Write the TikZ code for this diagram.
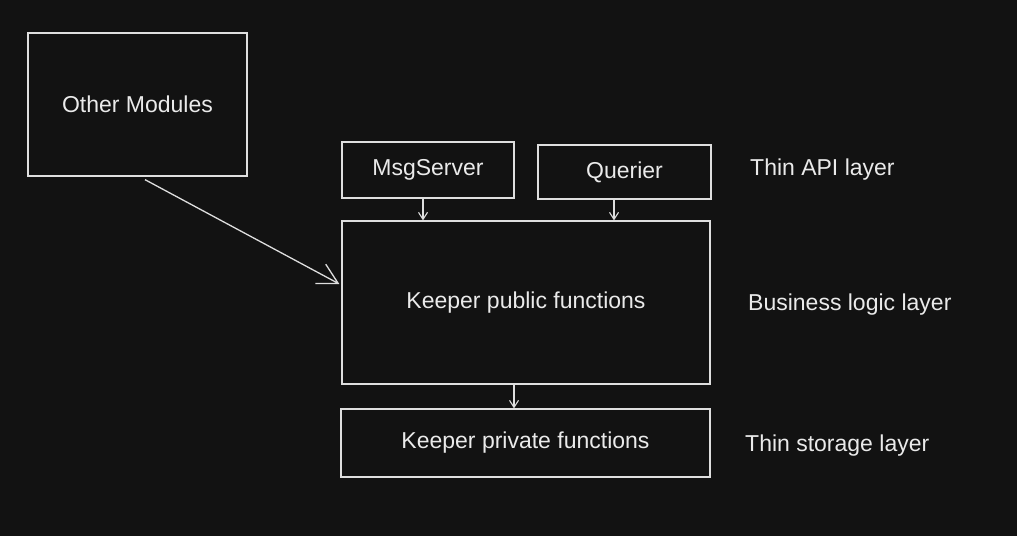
\documentclass[tikz,border=0pt]{standalone}
\usepackage{fontspec}
\setmainfont{Liberation Sans}
\usetikzlibrary{arrows.meta}
\definecolor{bgc}{HTML}{121212}
\definecolor{ink}{HTML}{DEDEDE}
\definecolor{txt}{HTML}{EAEAEA}
\tikzset{
  box/.style={draw=ink, line width=1.3pt, minimum width=#1, inner sep=0pt, text=txt, font=\fontsize{23}{26}\selectfont},
  label/.style={text=txt, inner sep=0pt, anchor=base west, font=\fontsize{23}{26}\selectfont},
  arr/.style={draw=ink, line width=1.2pt, -{Straight Barb[length=7pt,width=9pt,line width=1.1pt]}},
  bigarr/.style={draw=ink, line width=1.3pt, -{Straight Barb[length=20pt,width=22pt,line width=1.3pt]}}
}
\begin{document}
\begin{tikzpicture}[x=1pt,y=-1pt]
\fill[bgc] (0,0) rectangle (1017,536);
\useasboundingbox (0,0) rectangle (1017,536);
\node[box=219pt, minimum height=143pt] (om) at (137.5,104.5) {\raisebox{1pt}{Other Modules}};
\node[box=172pt, minimum height=56pt] (msg) at (428,170) {MsgServer};
\node[box=173pt, minimum height=54pt] (qr) at (624.5,172) {Querier};
\node[box=368pt, minimum height=163pt] (pub) at (526,302.5) {Keeper public functions};
\node[box=369pt, minimum height=68pt] (priv) at (525.5,443) {Keeper private functions};
\node[label] (l1) at (750,175) {Thin API layer};
\node[label] (l2) at (748,310) {Business logic layer};
\node[label] (l3) at (745,451) {Thin storage layer};
\draw[arr] ([xshift=-5pt]msg.south) -- ([xshift=-5pt]msg.south |- pub.north);
\draw[arr] ([xshift=-10.5pt]qr.south) -- ([xshift=-10.5pt]qr.south |- pub.north);
\draw[arr] ([xshift=-12pt]pub.south) -- ([xshift=-12pt]pub.south |- priv.north);
\draw[bigarr] ([xshift=7.5pt,yshift=-3pt]om.south) -- ([yshift=18.5pt,xshift=-2pt]pub.west);
\end{tikzpicture}
\end{document}
